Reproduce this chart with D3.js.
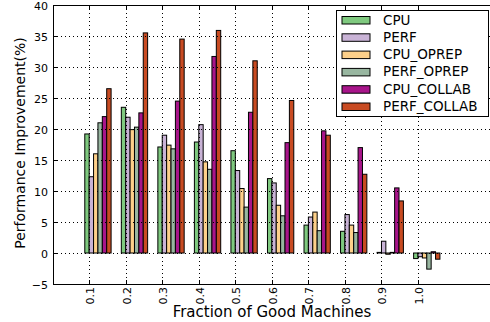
<!DOCTYPE html>
<html>
<head>
<meta charset="utf-8">
<script src="https://cdn.jsdelivr.net/npm/d3@7"></script>
<style>
  body { margin: 0; background: #fff; }
  svg { display: block; font-family: "DejaVu Sans", sans-serif; }
</style>
</head>
<body>
<svg id="chart" width="490" height="322"></svg>
<script>
// fraction of good machines
var categories = ["0.1", "0.2", "0.3", "0.4", "0.5", "0.6", "0.7", "0.8", "0.9", "1.0"];
var seriesNames = ["CPU", "PERF", "CPU_OPREP", "PERF_OPREP", "CPU_COLLAB", "PERF_COLLAB"];
var seriesColors = ["#7fc97f", "#c9b3d6", "#fdd08a", "#98b6a0", "#a8158a", "#c84b22"];

var cpu        = [19.2, 23.5, 17.1, 17.9, 16.5, 12.0, 4.5, 3.5, 0.1, -0.9];
var perf       = [12.3, 21.9, 19.0, 20.7, 13.3, 11.3, 5.8, 6.2, 1.9, -0.6];
var cpuOprep   = [16.0, 19.9, 17.4, 14.7, 10.4, 7.7, 6.6, 4.5, -0.2, -0.8];
var perfOprep  = [21.0, 20.3, 16.8, 13.5, 7.4, 6.0, 3.6, 3.3, 0.1, -2.6];
var cpuCollab  = [22.0, 22.6, 24.5, 31.7, 22.7, 17.8, 19.7, 17.0, 10.5, 0.2];
var perfCollab = [26.5, 35.5, 34.5, 35.9, 31.0, 24.6, 19.0, 12.7, 8.4, -1.0];

var yTicks = [-5, 0, 5, 10, 15, 20, 25, 30, 35, 40];

var series = [cpu, perf, cpuOprep, perfOprep, cpuCollab, perfCollab];

var svg = d3.select("#chart");
var plotLeft = 53, plotTop = 5, plotBottom = 284, plotRight = 494;
var barW = 0.12;

var xScale = d3.scaleLinear().domain([-0.87, 11.2]).range([plotLeft, plotRight]);
var yScale = d3.scaleLinear().domain([-5, 40]).range([plotBottom, plotTop]);

// bars
var bars = svg.append("g");
series.forEach(function (vals, k) {
    bars.selectAll(null)
        .data(vals)
        .enter()
        .append("rect")
        .attr("x", function (d, i) { return xScale(i + k * barW); })
        .attr("width", xScale(barW) - xScale(0))
        .attr("y", function (d) { return yScale(Math.max(0, d)); })
        .attr("height", function (d) { return Math.abs(yScale(d) - yScale(0)); })
        .style("fill", seriesColors[k])
        .style("stroke", "#000")
        .style("stroke-width", 1);
});

// grid on top of the bars, like matplotlib does
var grid = svg.append("g")
    .style("stroke", "#000")
    .style("stroke-width", 1)
    .style("stroke-dasharray", "1 3");
grid.selectAll(null).data(yTicks.slice(1, -1)).enter().append("line")
    .attr("x1", plotLeft).attr("x2", plotRight)
    .attr("y1", function (d) { return Math.round(yScale(d)) + 0.5; })
    .attr("y2", function (d) { return Math.round(yScale(d)) + 0.5; });
grid.selectAll(null).data(categories).enter().append("line")
    .attr("x1", function (d, i) { return Math.round(xScale(i + barW)) + 0.5; })
    .attr("x2", function (d, i) { return Math.round(xScale(i + barW)) + 0.5; })
    .attr("y1", plotTop).attr("y2", plotBottom);

// spines
svg.append("path")
    .attr("d", "M" + plotRight + "," + (plotTop + 0.5) + "H" + (plotLeft + 0.5) + "V" + (plotBottom + 0.5) + "H" + plotRight)
    .style("fill", "none")
    .style("stroke", "#000")
    .style("stroke-width", 1);

// y axis ticks (inside) and labels
var yAxis = svg.append("g");
yAxis.selectAll(null).data(yTicks).enter().append("line")
    .attr("x1", plotLeft).attr("x2", plotLeft + 4)
    .attr("y1", function (d) { return Math.round(yScale(d)) + 0.5; })
    .attr("y2", function (d) { return Math.round(yScale(d)) + 0.5; })
    .style("stroke", "#000");
yAxis.selectAll(null).data(yTicks).enter().append("text")
    .attr("x", plotLeft - 5)
    .attr("y", function (d) { return yScale(d) + 4.5; })
    .attr("text-anchor", "end")
    .style("font-size", "11px")
    .text(function (d) { return d < 0 ? "\u2212" + Math.abs(d) : d; });

// x axis ticks top and bottom, rotated labels
var xAxis = svg.append("g");
categories.forEach(function (c, i) {
    var x = Math.round(xScale(i + barW)) + 0.5;
    xAxis.append("line").attr("x1", x).attr("x2", x).attr("y1", plotBottom).attr("y2", plotBottom - 4).style("stroke", "#000");
    xAxis.append("line").attr("x1", x).attr("x2", x).attr("y1", plotTop).attr("y2", plotTop + 4).style("stroke", "#000");
    xAxis.append("text")
        .attr("transform", "translate(" + (x + 4) + "," + (plotBottom + 3) + ") rotate(-90)")
        .attr("text-anchor", "end")
        .style("font-size", "11px")
        .text(c);
});

// axis titles
svg.append("text")
    .attr("x", 272)
    .attr("y", 317)
    .attr("text-anchor", "middle")
    .style("font-size", "15px")
    .text("Fraction of Good Machines");
svg.append("text")
    .attr("transform", "translate(25,143) rotate(-90)")
    .attr("text-anchor", "middle")
    .style("font-size", "14px")
    .text("Performance Improvement(%)");

// legend
var legend = svg.append("g");
legend.append("rect")
    .attr("x", 336.5).attr("y", 10.5)
    .attr("width", 152).attr("height", 106)
    .style("fill", "#fff")
    .style("stroke", "#000");
seriesNames.forEach(function (name, k) {
    var cy = 20 + k * 17.3;
    legend.append("rect")
        .attr("x", 342).attr("y", cy - 3.5)
        .attr("width", 28).attr("height", 7.5)
        .style("fill", seriesColors[k])
        .style("stroke", "#000");
    legend.append("text")
        .attr("x", 383).attr("y", cy + 4.5)
        .style("font-size", "13.5px")
        .text(name);
});
</script>
</body>
</html>
